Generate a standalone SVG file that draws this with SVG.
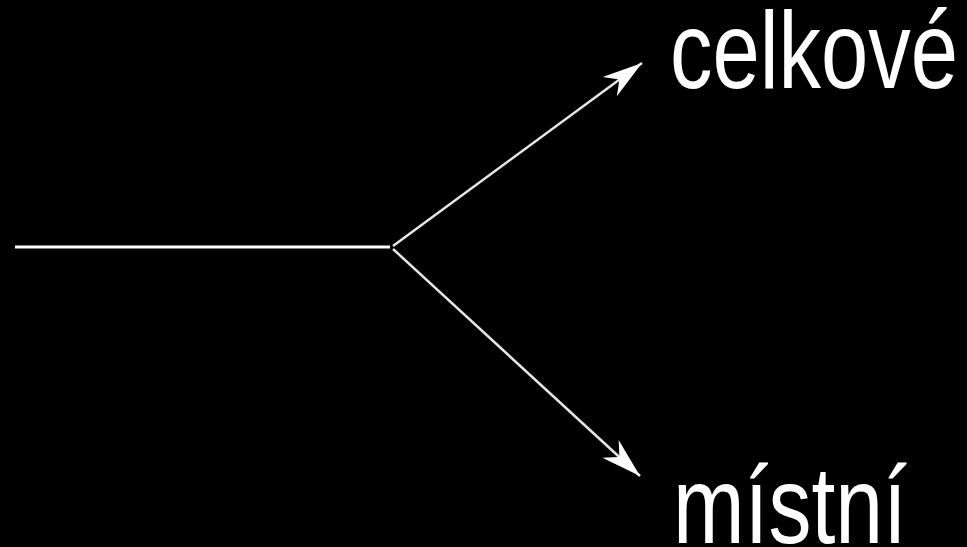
<svg xmlns="http://www.w3.org/2000/svg" width="967" height="547" viewBox="0 0 967 547">
<style>
.lbl{font-family:"Liberation Sans",Arial,sans-serif;font-size:110px;fill:#fff}
.ln{stroke:#fff;stroke-width:3;fill:none}
.dg{stroke:#e6e6e6;stroke-width:2.5;fill:none}
</style>
<defs>
<marker id="ah" markerUnits="userSpaceOnUse" markerWidth="50" markerHeight="30" refX="0" refY="0" viewBox="-42 -15 44 30" orient="auto" overflow="visible">
<path d="M0,0 L-40,-12 L-28,0 L-40,12 Z" fill="#fff"/>
</marker>
</defs>
<rect width="967" height="547" fill="#000"/>
<g id="connectors">
<line class="ln" x1="15" y1="247" x2="390" y2="247"/>
<line class="dg" x1="393" y1="246" x2="642" y2="63" marker-end="url(#ah)"/>
<line class="dg" x1="393" y1="249" x2="640" y2="476" marker-end="url(#ah)"/>
</g>
<g id="celkove"><text class="lbl" x="670" y="88" textLength="288" lengthAdjust="spacingAndGlyphs">celkové</text></g>
<g id="mistni"><text class="lbl" x="673" y="543" textLength="234" lengthAdjust="spacingAndGlyphs">místní</text></g>
</svg>
